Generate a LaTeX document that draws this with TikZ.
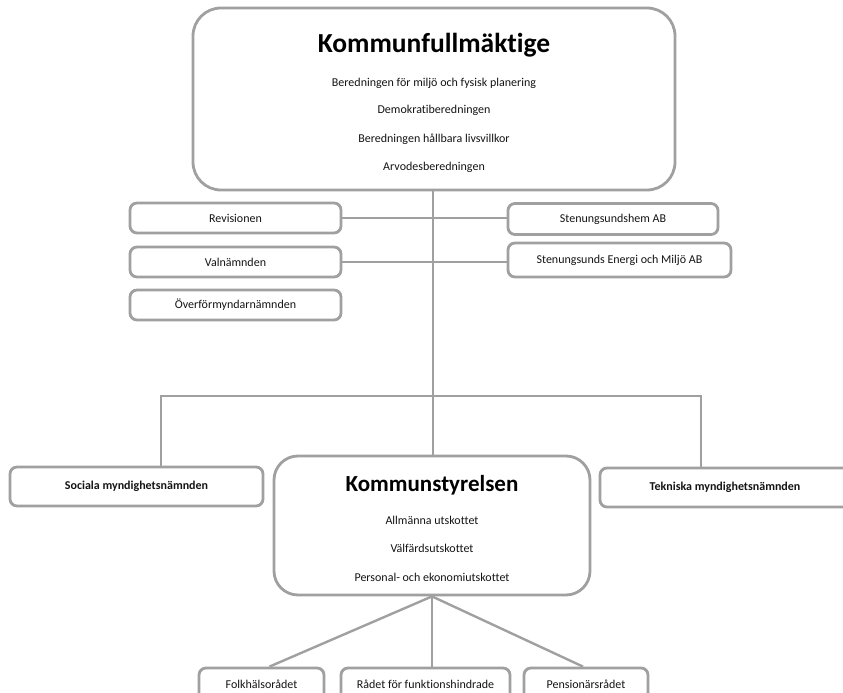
\documentclass[tikz,border=0pt]{standalone}
\usepackage{fontspec}
\setmainfont{Carlito}[Ligatures={NoCommon}]
\definecolor{bordercol}{RGB}{160,160,160}
\definecolor{linecol}{RGB}{160,160,160}
\definecolor{txtcol}{RGB}{20,20,20}
\begin{document}
\begin{tikzpicture}[x=1pt,y=-1pt,
  box/.style={draw=bordercol, line width=2.8pt, rounded corners=7pt, fill=white,
    inner sep=0pt, text=txtcol, font=\fontsize{12}{14}\selectfont},
  bigbox/.style={box, rounded corners=28pt},
  boldbox/.style={box, font=\fontsize{12}{14}\selectfont\bfseries},
  conn/.style={draw=linecol, line width=2.4pt},
  small/.style={text=txtcol, inner sep=0pt, font=\fontsize{12}{14}\selectfont},
  titleA/.style={text=black, inner sep=0pt, font=\fontsize{27.5}{30}\selectfont\bfseries},
  titleB/.style={text=black, inner sep=0pt, font=\fontsize{23}{26}\selectfont\bfseries},
]
\useasboundingbox (0,0) rectangle (843,693);
\clip (0,0) rectangle (843,693);

\coordinate (jl) at (161,396);
\coordinate (jr) at (701,396);
\coordinate (jc) at (433,396);

% top box
\node[bigbox, minimum width=482pt, minimum height=182pt] (kf) at (434,99) {};
\node[titleA] (kft) at (434,45) {Kommunfullmäktige};
\node[small] (kf1) at (434,83) {Beredningen för miljö och fysisk planering};
\node[small] (kf2) at (434,110) {Demokratiberedningen};
\node[small] (kf3) at (434,139) {Beredningen hållbara livsvillkor};
\node[small] (kf4) at (434,167) {Arvodesberedningen};

% side boxes
\node[box, minimum width=211pt, minimum height=30pt] (rev) at (235.5,218) {Revisionen};
\node[box, minimum width=211pt, minimum height=30pt] (val) at (235.5,262) {Valnämnden};
\node[box, minimum width=211pt, minimum height=30pt] (ofn) at (235.5,305) {Överförmyndarnämnden};
\node[box, minimum width=210pt, minimum height=31pt] (sh) at (613,219) {Stenungsundshem AB};
\node[box, minimum width=223pt, minimum height=34pt] (sem) at (619.5,260) {Stenungsunds Energi och Miljö AB};

% middle level
\node[boldbox, minimum width=253pt, minimum height=39pt] (soc) at (136.5,486.5) {Sociala myndighetsnämnden};
\node[boldbox, minimum width=250pt, minimum height=39pt] (tek) at (725,487.5) {Tekniska myndighetsnämnden};
\node[bigbox, rounded corners=24pt, minimum width=316pt, minimum height=139pt] (ks) at (432,525.5) {};
\node[titleB] (kst) at (432,485) {Kommunstyrelsen};
\node[small] (ks1) at (432,520) {Allmänna utskottet};
\node[small] (ks2) at (432,548) {Välfärdsutskottet};
\node[small] (ks3) at (432,577) {Personal- och ekonomiutskottet};

% bottom boxes (cut by the page edge)
\node[box, minimum width=125pt, minimum height=44pt] (fh) at (261.5,690) {};
\node[box, minimum width=169pt, minimum height=44pt] (rf) at (425.5,690) {};
\node[box, minimum width=124pt, minimum height=44pt] (pr) at (586,690) {};
\node[small] (fht) at (261.5,684) {Folkhälsorådet};
\node[small] (rft) at (425.5,684) {Rådet för funktionshindrade};
\node[small] (prt) at (586,684) {Pensionärsrådet};

% connector lines
\draw[conn] (kf.south -| jc) -- (jc) -- (ks.north -| jc);
\draw[conn] (jl |- soc.north) -- (jl) -- (jr) -- (jr |- tek.north);
\draw[conn] (rev.east) -- (rev.east -| sh.west);
\draw[conn] (val.east) -- (val.east -| sem.west);
\coordinate (ksb) at (ks.south);
\draw[conn] (ksb) -- ([xshift=8pt]fh.north);
\draw[conn] (ksb) -- (ksb |- rf.north);
\draw[conn] (ksb) -- ([xshift=-3pt]pr.north);
\end{tikzpicture}
\end{document}
